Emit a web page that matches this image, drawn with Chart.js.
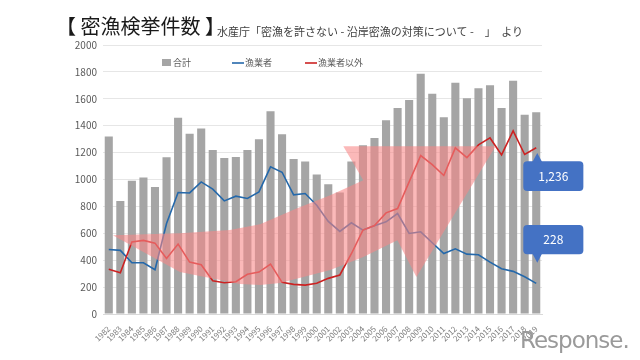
<!DOCTYPE html>
<html>
<head>
<meta charset="utf-8">
<script src="https://cdn.jsdelivr.net/npm/chart.js@4/dist/chart.umd.min.js"></script>
<style>
  html, body { margin: 0; padding: 0; background: #fff; }
  #wrap { position: relative; width: 640px; height: 360px; overflow: hidden; }
  #title { position: absolute; left: 56px; top: 11px; font: 20px "Noto Sans CJK JP"; color: #1a1a1a; white-space: nowrap; }
  #sub { position: absolute; left: 217px; top: 23px; font: 11px "Noto Sans CJK JP"; color: #404040; white-space: nowrap; }
  #mark { position: absolute; left: 520px; top: 327px; font: 23px "DejaVu Sans"; color: #9a9a9a; letter-spacing: -1px; }
</style>
</head>
<body>
<div id="wrap">
  <canvas id="myChart" width="640" height="360"></canvas>
  <div id="title">【 密漁検挙件数 】</div>
  <div id="sub">水産庁「密漁を許さない - 沿岸密漁の対策について -　」　より</div>
  <div id="mark">Response.</div>
</div>
<script>
// 密漁検挙件数 1982-2019
const years = ["1982","1983","1984","1985","1986","1987","1988","1989","1990","1991",
  "1992","1993","1994","1995","1996","1997","1998","1999","2000","2001",
  "2002","2003","2004","2005","2006","2007","2008","2009","2010","2011",
  "2012","2013","2014","2015","2016","2017","2018","2019"];
const totals = [1320,840,990,1015,945,1165,1460,1340,1380,1220,
  1160,1168,1220,1300,1507,1336,1153,1133,1037,965,
  903,1133,1255,1309,1440,1532,1591,1787,1638,1462,
  1720,1604,1678,1700,1532,1735,1482,1500];
const fishers = [480,473,381,381,329,673,903,900,982,928,
  841,876,859,908,1094,1054,886,896,809,688,
  614,678,624,656,685,747,599,611,530,450,
  485,445,440,386,336,317,277,228];
const others = [332,307,535,547,527,413,520,386,366,247,
  232,240,295,312,371,235,220,215,228,265,
  290,448,624,658,752,784,982,1178,1110,1030,
  1235,1163,1257,1309,1183,1361,1186,1236];
const seriesNames = ["合計", "漁業者", "漁業者以外"];
const yTicks = [0,200,400,600,800,1000,1200,1400,1600,1800,2000];

const FONT = '"Noto Sans CJK JP", "Liberation Sans", sans-serif';

// big pink arrow, in (category index, value) units
const arrowShape = [
  [0.35,586],[6.16,601],[10.49,624],[13.1,668],[16.3,787],[19.17,883],[22.03,995],
  [20.3,1247],[33.48,1247],[26.63,275],[24.98,549],
  [22.03,423],[19.17,327],[14.83,230],[13.1,215],[11.36,223],[8.76,267],[6.16,312]
];

const arrowPlugin = {
  id: "arrow",
  afterDatasetsDraw(chart) {
    const ctx = chart.ctx, x = chart.scales.x, y = chart.scales.y;
    ctx.save();
    ctx.beginPath();
    arrowShape.forEach((p, i) => {
      const px = x.getPixelForValue(p[0]), py = y.getPixelForValue(p[1]);
      if (i === 0) ctx.moveTo(px, py); else ctx.lineTo(px, py);
    });
    ctx.closePath();
    ctx.fillStyle = "rgba(248,135,135,0.58)";
    ctx.fill();
    ctx.restore();
  },
  afterDraw(chart) {
    const ctx = chart.ctx, x = chart.scales.x, y = chart.scales.y;
    const last = years.length - 1;
    // callouts
    callout(ctx, x, y, 35.88, 41.08, 1136, 915, 1197, others[last].toLocaleString("en-US"));
    callout(ctx, x, y, 35.88, 41.08, 661, 445, 381, fishers[last].toLocaleString("en-US"));
    // legend
    const ds = chart.data.datasets;
    ctx.save();
    ctx.font = "9px " + FONT;
    ctx.textBaseline = "middle";
    const ly = 63;
    let lx = 162;
    ctx.fillStyle = ds[0].backgroundColor;
    ctx.fillRect(lx, ly - 4, 9, 7);
    ctx.fillStyle = "#595959";
    ctx.fillText(seriesNames[0], lx + 11, ly);
    [[1, 232], [2, 305]].forEach(([i, sx]) => {
      ctx.strokeStyle = ds[i].borderColor;
      ctx.lineWidth = 1.6;
      ctx.beginPath();
      ctx.moveTo(sx, ly);
      ctx.lineTo(sx + 12, ly);
      ctx.stroke();
      ctx.fillText(seriesNames[i], sx + 13, ly);
    });
    ctx.restore();
  }
};

function callout(ctx, x, y, i0, i1, vTop, vBot, vTip, text) {
  const l = x.getPixelForValue(i0), r = x.getPixelForValue(i1);
  const t = y.getPixelForValue(vTop), b = y.getPixelForValue(vBot);
  const tip = y.getPixelForValue(vTip);
  const tx = x.getPixelForValue(37.09);
  ctx.save();
  ctx.fillStyle = "#4472C4";
  ctx.beginPath();
  ctx.roundRect(l, t, r - l, b - t, 4);
  ctx.fill();
  ctx.beginPath();
  if (tip < t) {
    ctx.moveTo(tx - 5, t + 1); ctx.lineTo(tx, tip); ctx.lineTo(tx + 5, t + 1);
  } else {
    ctx.moveTo(tx - 5, b - 1); ctx.lineTo(tx, tip); ctx.lineTo(tx + 5, b - 1);
  }
  ctx.closePath();
  ctx.fill();
  ctx.fillStyle = "#ffffff";
  ctx.font = "12px " + FONT;
  ctx.textAlign = "center";
  ctx.textBaseline = "middle";
  ctx.fillText(text, (l + r) / 2, (t + b) / 2);
  ctx.restore();
}

new Chart("myChart", {
  type: "bar",
  data: {
    labels: years,
    datasets: [
      { label: seriesNames[0], data: totals, backgroundColor: "#A5A5A5",
        barPercentage: 0.7, categoryPercentage: 1, order: 3 },
      { type: "line", label: seriesNames[1], data: fishers, borderColor: "#2468AA",
        borderWidth: 1.6, pointRadius: 0, tension: 0, order: 2 },
      { type: "line", label: seriesNames[2], data: others, borderColor: "#CC2222",
        borderWidth: 1.6, pointRadius: 0, tension: 0, order: 1 }
    ]
  },
  options: {
    responsive: false,
    animation: false,
    devicePixelRatio: 1,
    layout: { padding: { top: 45, right: 98, left: 0, bottom: 0 } },
    plugins: { legend: { display: false }, tooltip: { enabled: false } },
    scales: {
      x: {
        grid: { display: false },
        border: { color: "#D9D9D9" },
        ticks: { autoSkip: false, minRotation: 45, maxRotation: 45, padding: 2,
          color: "#7a7a7a", font: { size: 8, family: FONT } },
        afterFit(s) { s.height = 46; }
      },
      y: {
        min: 0, max: 2000,
        afterBuildTicks(s) { s.ticks = yTicks.map(v => ({ value: v })); },
        grid: { color: "#E6E6E6", drawTicks: false },
        border: { display: false },
        ticks: { padding: 6, color: "#595959", font: { size: 10, family: FONT },
          callback: v => String(v) },
        afterFit(s) { s.width = 103; }
      }
    }
  },
  plugins: [arrowPlugin]
});
</script>
</body>
</html>
